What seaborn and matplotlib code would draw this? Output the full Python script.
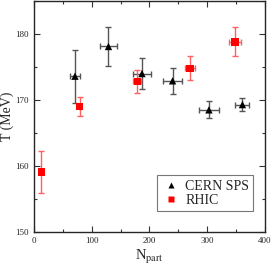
import matplotlib
matplotlib.use("Agg")
import matplotlib.pyplot as plt
from matplotlib.ticker import MultipleLocator
import seaborn as sns
import pandas as pd

# CERN SPS points
sps_npart = [71, 129, 187, 240, 303, 361]
sps_npart_err = [8, 15, 15, 16, 17, 12]
sps_T = [173.6, 178.1, 174.0, 172.9, 168.5, 169.3]
sps_T_err = [4.0, 3.0, 2.3, 2.0, 1.3, 1.0]

# RHIC points
rhic_npart = [13, 79, 179, 270, 348]
rhic_npart_err = [0, 0, 7, 8, 10]
rhic_T = [159.1, 169.0, 172.8, 174.8, 178.8]
rhic_T_err = [3.2, 1.5, 1.8, 1.8, 2.2]

sns.set_style("ticks")
plt.rcParams["font.family"] = ["Liberation Serif", "DejaVu Serif"]
plt.rcParams["mathtext.fontset"] = "stix"

df = pd.concat([
    pd.DataFrame({"Npart": sps_npart, "T": sps_T, "set": "CERN SPS"}),
    pd.DataFrame({"Npart": rhic_npart, "T": rhic_T, "set": "RHIC"}),
])

fig = plt.figure(figsize=(2.73, 2.69), dpi=100)
ax = fig.add_axes([0.1245, 0.1375, 0.846, 0.859])

ax.errorbar(sps_npart, sps_T, xerr=sps_npart_err, yerr=sps_T_err, fmt="none",
            ecolor="#555555", elinewidth=1, capsize=2, capthick=1)
ax.errorbar(rhic_npart, rhic_T, xerr=rhic_npart_err, yerr=rhic_T_err, fmt="none",
            ecolor="#ff6060", elinewidth=1, capsize=2.5, capthick=1)

sns.scatterplot(data=df, x="Npart", y="T", hue="set", style="set",
                markers={"CERN SPS": "^", "RHIC": "s"},
                palette={"CERN SPS": "black", "RHIC": "red"},
                s=28, edgecolor="none", ax=ax, zorder=5)

ax.set_xlim(0, 400)
ax.set_ylim(150, 185)
ax.xaxis.set_major_locator(MultipleLocator(100))
ax.xaxis.set_minor_locator(MultipleLocator(50))
ax.yaxis.set_major_locator(MultipleLocator(10))
ax.yaxis.set_minor_locator(MultipleLocator(5))
ax.tick_params(which="both", direction="in", top=True, right=True,
               labelsize=6.5, width=0.8, color="#333333")
ax.tick_params(which="major", length=4)
ax.tick_params(which="minor", length=2)
for sp in ax.spines.values():
    sp.set_linewidth(1)

ax.set_xlabel(r"N$_{\rm part}$", fontsize=10.5, labelpad=2)
ax.set_ylabel("T (MeV)", fontsize=10, labelpad=1)

leg = ax.legend(title=None, loc="lower right", bbox_to_anchor=(0.98, 0.06),
                fontsize=10, frameon=True, fancybox=False, edgecolor="#555555",
                handletextpad=0.4, borderpad=0.3, labelspacing=0.1,
                handlelength=1.3, markerscale=0.8)
leg.get_frame().set_linewidth(0.8)

fig.savefig("out.png", dpi=100)
